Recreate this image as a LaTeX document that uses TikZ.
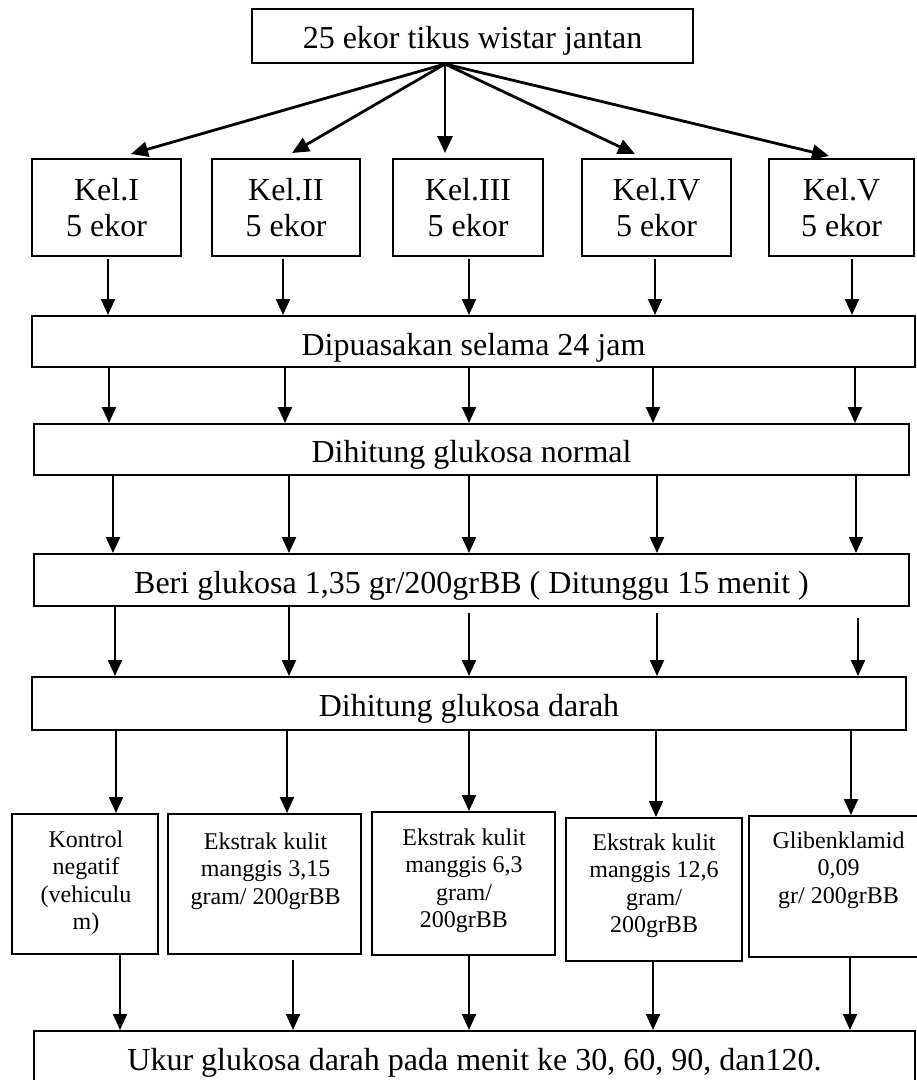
\documentclass[tikz,border=0pt]{standalone}
\usepackage{fontspec}
\setmainfont{Liberation Serif}
\usetikzlibrary{arrows.meta,calc}
\tikzset{
  box/.style={draw, line width=2pt, rectangle, inner sep=0pt, anchor=center},
  big/.style={font=\fontsize{32}{36}\selectfont, align=center},
  wide/.style={box, big, text depth=0pt},
  small/.style={font=\fontsize{24}{27.5}\selectfont, align=center, inner sep=0pt, anchor=north},
  arr/.style={line width=2.2pt, -{Triangle[length=16pt,width=14pt]}},
  fan/.style={line width=2.8pt, -{Triangle[length=17pt,width=15pt]}},
}
\newcommand\vlink[5]{%
  \path (#3,0) coordinate (vx);
  \draw[arr] ($(#1.south -| vx)+(0,#4)$) -- ($(#2.north -| vx)+(0,#5)$);}
\begin{document}
\begin{tikzpicture}[x=1pt,y=-1pt]
\useasboundingbox (0,0) rectangle (917,1080);
\clip (0,0) rectangle (917,1080);

% top
\node[wide, minimum width=441, minimum height=54, text height=24pt] (top) at (472.5,36) {25 ekor tikus wistar jantan};

% groups
\node[box, big, minimum width=149, minimum height=97] (k1) at (106.5,207.5) {Kel.I\\5 ekor};
\node[box, big, minimum width=148, minimum height=97] (k2) at (286,207.5) {Kel.II\\5 ekor};
\node[box, big, minimum width=150, minimum height=97] (k3) at (468,207.5) {Kel.III\\5 ekor};
\node[box, big, minimum width=149, minimum height=97] (k4) at (656.5,207.5) {Kel.IV\\5 ekor};
\node[box, big, minimum width=145, minimum height=97] (k5) at (841.5,207.5) {Kel.V\\5 ekor};

% fan-out
\coordinate (o) at ($(top.south)+(-27.5,0)$);
\draw[fan] (o) -- ($(k1.north)+(24.5,-4)$);
\draw[fan] (o) -- ($(k2.north)+(6,-5)$);
\draw[fan] (o) -- ($(k3.north)+(-23,-5)$);
\draw[fan] (o) -- ($(k4.north)+(-21.5,-4)$);
\draw[fan] (o) -- ($(k5.north)+(-12.5,-2)$);

% wide steps
\node[wide, minimum width=883, minimum height=51, text height=27pt] (dip) at (473.5,341.5) {Dipuasakan selama 24 jam};
\node[wide, minimum width=875, minimum height=51, text height=25pt] (norm) at (471.5,449.5) {Dihitung glukosa normal};
\node[wide, minimum width=875, minimum height=52, text height=26pt] (beri) at (471.5,580) {Beri glukosa 1,35 gr/200grBB ( Ditunggu 15 menit )};
\node[wide, minimum width=874, minimum height=53, text height=25pt] (darah) at (469,703.5) {Dihitung glukosa darah};

% treatment boxes
\node[box, minimum width=146, minimum height=140] (b1) at (85,884) {};
\node[box, minimum width=193, minimum height=140] (b2) at (264.5,884) {};
\node[box, minimum width=183, minimum height=143] (b3) at (463.5,883.5) {};
\node[box, minimum width=176, minimum height=143] (b4) at (654,889.5) {};
\node[box, minimum width=179, minimum height=141] (b5) at (838.5,886.5) {};

\node[small] (t1) at (86,830.6) {Kontrol\\negatif\\(vehiculu\\m)};
\node[small] (t2) at (265.6,832.6) {Ekstrak kulit\\manggis 3,15\\gram/ 200grBB};
\node[small] (t3) at (464,828.6) {Ekstrak kulit\\manggis 6,3\\gram/\\200grBB};
\node[small] (t4) at (654,833.6) {Ekstrak kulit\\manggis 12,6\\gram/\\200grBB};
\node[small] (t5) at (838.5,831.6) {Glibenklamid\\0,09\\gr/ 200grBB};

% final
\node[wide, minimum width=881, minimum height=61, text height=17pt] (ukur) at (474.5,1061.5) {Ukur glukosa darah pada menit ke 30, 60, 90, dan120.};

% vertical links
\vlink{k1}{dip}{108}{2}{0}
\vlink{k2}{dip}{283}{2}{0}
\vlink{k3}{dip}{469}{2}{0}
\vlink{k4}{dip}{655}{2}{0}
\vlink{k5}{dip}{852}{2}{0}

\vlink{dip}{norm}{109}{0}{0}
\vlink{dip}{norm}{285}{0}{0}
\vlink{dip}{norm}{469}{0}{0}
\vlink{dip}{norm}{653}{0}{0}
\vlink{dip}{norm}{855}{0}{0}

\vlink{norm}{beri}{113}{0}{0}
\vlink{norm}{beri}{289}{0}{0}
\vlink{norm}{beri}{469}{0}{0}
\vlink{norm}{beri}{657}{0}{0}
\vlink{norm}{beri}{856}{0}{0}

\vlink{beri}{darah}{115}{0}{0}
\vlink{beri}{darah}{289}{0}{0}
\vlink{beri}{darah}{469}{6}{0}
\vlink{beri}{darah}{657}{6}{0}
\vlink{beri}{darah}{858}{11}{0}

\vlink{darah}{b1}{116}{0}{0}
\vlink{darah}{b2}{287}{0}{0}
\vlink{darah}{b3}{469}{0}{0}
\vlink{darah}{b4}{656}{0}{0}
\vlink{darah}{b5}{851}{0}{0}

\vlink{b1}{ukur}{120}{0}{0}
\vlink{b2}{ukur}{293}{5}{0}
\vlink{b3}{ukur}{469}{0}{0}
\vlink{b4}{ukur}{653}{0}{0}
\vlink{b5}{ukur}{850}{0}{0}
\end{tikzpicture}
\end{document}
